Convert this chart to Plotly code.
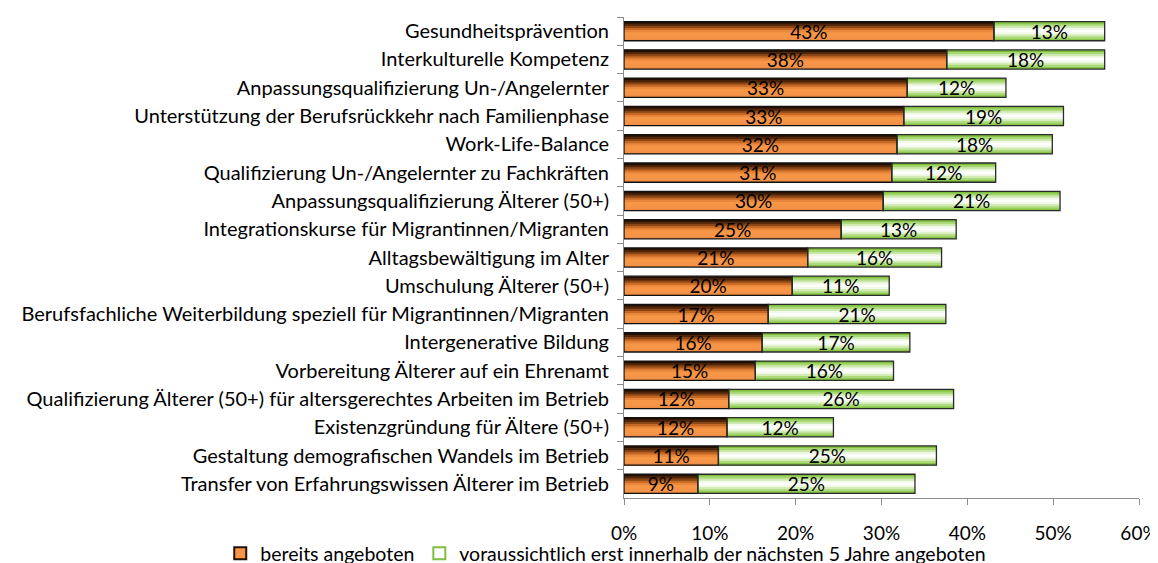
import plotly.graph_objects as go

categories = [
    "Gesundheitsprävention",
    "Interkulturelle Kompetenz",
    "Anpassungsqualifizierung Un-/Angelernter",
    "Unterstützung der Berufsrückkehr nach Familienphase",
    "Work-Life-Balance",
    "Qualifizierung Un-/Angelernter zu Fachkräften",
    "Anpassungsqualifizierung Älterer (50+)",
    "Integrationskurse für Migrantinnen/Migranten",
    "Alltagsbewältigung im Alter",
    "Umschulung Älterer (50+)",
    "Berufsfachliche Weiterbildung speziell für Migrantinnen/Migranten",
    "Intergenerative Bildung",
    "Vorbereitung Älterer auf ein Ehrenamt",
    "Qualifizierung Älterer (50+) für altersgerechtes Arbeiten im Betrieb",
    "Existenzgründung für Ältere (50+)",
    "Gestaltung demografischen Wandels im Betrieb",
    "Transfer von Erfahrungswissen Älterer im Betrieb",
]
bereits = [0.431, 0.376, 0.330, 0.326, 0.318, 0.312, 0.302, 0.253, 0.214, 0.196,
           0.168, 0.161, 0.153, 0.122, 0.120, 0.110, 0.086]
kuenftig = [0.129, 0.184, 0.115, 0.186, 0.181, 0.121, 0.206, 0.134, 0.156, 0.113,
            0.207, 0.172, 0.161, 0.262, 0.124, 0.254, 0.253]
series_names = ["bereits angeboten",
                "voraussichtlich erst innerhalb der nächsten 5 Jahre angeboten"]
x_ticks = [0, 0.1, 0.2, 0.3, 0.4, 0.5, 0.6]

FONT = "Lato"
W = 0.68
orange_bands = ["#241003", "#4f260a", "#8a4614", "#c46824", "#e9873c",
                "#f79646", "#f79646", "#f4934a", "#ee8e44"]
green_bands = ["#7fbf3f", "#a6d772", "#cfeab0", "#f2f9ea", "#ffffff",
               "#f2f9ea", "#d3ecb6", "#acd97a", "#86c548"]


def add_bands(fig, xvals, base, colors):
    n = len(colors)
    w = W / n
    for k, c in enumerate(colors):
        # each band reaches from its top edge to the bottom of the bar; later bands cover
        fig.add_trace(go.Bar(y=categories, x=xvals, base=base, orientation="h",
                             width=W - k * w, offset=-W / 2 + k * w,
                             marker=dict(color=c, line=dict(width=0)),
                             showlegend=False, hoverinfo="skip"))


fig = go.Figure()
add_bands(fig, bereits, None, orange_bands)
add_bands(fig, kuenftig, bereits, green_bands)

label_font = dict(family=FONT, size=19, color="#000")
fig.add_trace(go.Bar(y=categories, x=bereits, orientation="h", width=W,
                     marker=dict(color="rgba(0,0,0,0)", line=dict(color="#111111", width=1.3)),
                     texttemplate="%{x:.0%}", textposition="inside",
                     insidetextanchor="middle", constraintext="none",
                     textfont=label_font, showlegend=False))
fig.add_trace(go.Bar(y=categories, x=kuenftig, base=bereits, orientation="h", width=W,
                     marker=dict(color="rgba(0,0,0,0)", line=dict(color="#2b2b2b", width=1.3)),
                     texttemplate="%{x:.0%}", textposition="inside",
                     insidetextanchor="middle", constraintext="none",
                     textfont=label_font, showlegend=False))
# legend entries
fig.add_trace(go.Bar(y=[None], x=[None], orientation="h", name=series_names[0],
                     marker=dict(color="#f79646", line=dict(color="#241003", width=2))))
fig.add_trace(go.Bar(y=[None], x=[None], orientation="h", name=series_names[1],
                     marker=dict(color="#ffffff", line=dict(color="#7fbf3f", width=2))))

fig.update_layout(
    width=1158, height=563,
    barmode="overlay",
    plot_bgcolor="white", paper_bgcolor="white",
    margin=dict(l=616, r=27, t=9, b=73, autoexpand=False),
    font=dict(family=FONT, size=19, color="#000"),
    showlegend=True,
    legend=dict(orientation="h", xref="paper", yref="paper",
                x=-0.784, xanchor="left", y=-0.0748, yanchor="top",
                font=dict(family=FONT, size=19.5, color="#000"),
                itemwidth=30, traceorder="normal", bgcolor="rgba(0,0,0,0)"),
    xaxis=dict(range=[0, 0.6], tickvals=x_ticks,
               tickformat=".0%", showgrid=False, zeroline=False,
               showline=True, linecolor="#8c8c8c", linewidth=1,
               ticks="outside", ticklen=6, tickcolor="#8c8c8c",
               ticklabelstandoff=12,
               tickfont=dict(family=FONT, size=19)),
    yaxis=dict(categoryorder="array", categoryarray=categories, autorange="reversed",
               showgrid=False, showline=True, linecolor="#8c8c8c", linewidth=1,
               ticks="outside", ticklen=6, tickcolor="#8c8c8c", tickson="boundaries",
               ticklabelstandoff=10, tickfont=dict(family=FONT, size=20)),
)
fig.write_html("out.html")
